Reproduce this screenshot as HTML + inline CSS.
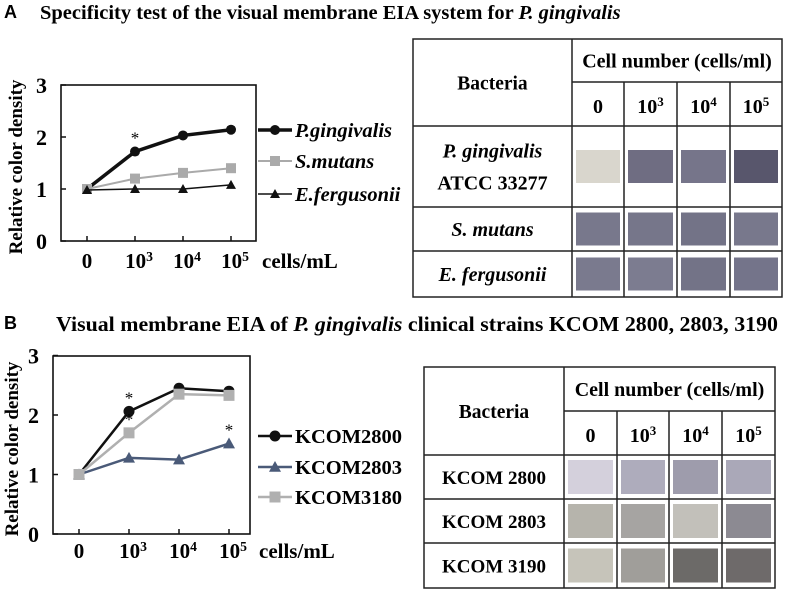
<!DOCTYPE html>
<html><head><meta charset="utf-8"><style>
html,body{margin:0;padding:0;background:#fff;}
svg{display:block;font-family:"Liberation Serif",serif;font-weight:bold;}
</style></head><body>
<svg id="fig" width="787" height="592" viewBox="0 0 787 592" xmlns="http://www.w3.org/2000/svg">
<text x="4" y="18" font-family="Liberation Sans" font-size="18">A</text>
<text x="40" y="19" font-size="20.5">Specificity test of the visual membrane EIA system for <tspan font-style="italic">P. gingivalis</tspan></text>
<text x="4" y="329" font-family="Liberation Sans" font-size="18">B</text>
<text x="56" y="331" font-size="21.5" textLength="722" lengthAdjust="spacingAndGlyphs">Visual membrane EIA of <tspan font-style="italic">P. gingivalis</tspan> clinical strains KCOM 2800, 2803, 3190</text>
<g id="chartA"></g>
<g id="chartB"></g>
<g id="tableA"></g>
<g id="tableB"></g>
</svg>
<script>
const xCats=["0","10|3","10|4","10|5"];
const yTicks=[0,1,2,3];
const aPg=[1,1.72,2.03,2.14];
const aSm=[1,1.2,1.31,1.4];
const aEf=[0.98,1,1,1.08];
const b2800=[1,2.06,2.45,2.4];
const b2803=[1,1.28,1.25,1.52];
const b3180=[1,1.7,2.35,2.33];
const NS="http://www.w3.org/2000/svg";
function mk(p,t,a){const e=document.createElementNS(NS,t);for(const k in a)e.setAttribute(k,a[k]);p.appendChild(e);return e;}
function txt(p,x,y,s,size,anchor,style){const e=mk(p,"text",{x:x,y:y,"font-size":size,"text-anchor":anchor||"start"});if(style)e.setAttribute("font-style",style);
 if(s.indexOf("|")>=0){const [b,sup]=s.split("|");e.textContent=b;const t=mk(e,"tspan",{dy:-7,"font-size":size*0.65});t.textContent=sup;}else e.textContent=s;return e;}
function chart(g,c){
 const X=i=>c.x0+i*c.dx, Y=v=>c.yb-v*c.ky;
 const box=mk(g,"rect",{x:c.l,y:c.t,width:c.r-c.l,height:c.yb-c.t,fill:"none",stroke:"#111","stroke-width":1.6});
 
 yTicks.forEach(v=>{mk(g,"line",{x1:c.l,x2:c.l+5,y1:Y(v),y2:Y(v),stroke:"#111","stroke-width":1.5});
  const t=txt(g,c.l-14,Y(v)+8,String(v),22,"end");});
 xCats.forEach((s,i)=>{mk(g,"line",{x1:X(i),x2:X(i),y1:c.yb,y2:c.yb-5,stroke:"#111","stroke-width":1.5});
  const t=txt(g,X(i)+(i?4:0),c.xl,s,21,"middle");});
 const u=txt(g,c.unitX,c.xl,"cells/mL",21,"start");
 const yt=txt(g,0,0,"Relative color density",19,"middle");yt.setAttribute("transform",`translate(${c.ytx},${(c.t+c.yb)/2+4}) rotate(-90)`);
 
 c.series.forEach((s,k)=>{
  const pts=s.v.map((v,i)=>X(i)+","+Y(v)).join(" ");
  const pl=mk(g,"polyline",{points:pts,fill:"none",stroke:s.col,"stroke-width":s.w});
  
  s.v.forEach((v,i)=>{const m=marker(g,s.m,X(i),Y(v),s.col,s.sz);});
  const ly=c.legY[k];
  mk(g,"line",{x1:c.legX,x2:c.legX+34,y1:ly,y2:ly,stroke:s.col,"stroke-width":s.w});
  marker(g,s.m,c.legX+17,ly,s.col,s.sz);
  const lt=txt(g,c.legX+37,ly+7,s.name,20.5,"start",s.it?"italic":null);
  (s.star||[]).forEach(i=>{const st=txt(g,X(i),Y(s.v[i])-8,"*",17,"middle");st.setAttribute("font-weight","normal");});
 });
}
function marker(g,m,x,y,col,sz){
 if(m=="c")return mk(g,"circle",{cx:x,cy:y,r:sz,fill:col});
 if(m=="s")return mk(g,"rect",{x:x-sz,y:y-sz,width:2*sz,height:2*sz,fill:col});
 return mk(g,"polygon",{points:`${x},${y-sz} ${x-sz},${y+sz*0.8} ${x+sz},${y+sz*0.8}`,fill:col});
}
chart(document.getElementById("chartA"),{l:61,r:256,t:85,yb:241,x0:87,dx:48,ky:52,xl:268,unitX:262,ytx:22,legX:258,legY:[130,161,194],
 series:[{id:"p-gingivalis",name:"P.gingivalis",v:aPg,col:"#111",w:3.5,m:"c",sz:5,it:1,star:[1]},
 {id:"s-mutans",name:"S.mutans",v:aSm,col:"#aaa",w:2,m:"s",sz:5,it:1},
 {id:"e-fergusonii",name:"E.fergusonii",v:aEf,col:"#111",w:1.5,m:"t",sz:5,it:1}]});
chart(document.getElementById("chartB"),{l:53,r:250,t:356,yb:534,x0:79,dx:50,ky:59.5,xl:558,unitX:259,ytx:18,legX:258,legY:[436,467,497],
 series:[{id:"kcom2800",name:"KCOM2800",v:b2800,col:"#111",w:2.5,m:"c",sz:5.5,star:[1]},
 {id:"kcom2803",name:"KCOM2803",v:b2803,col:"#4a5a78",w:2.5,m:"t",sz:6,star:[3]},
 {id:"kcom3180",name:"KCOM3180",v:b3180,col:"#b0b0b0",w:2.5,m:"s",sz:5.5,star:[1]}]});
function table(g,T){
 const L=T.cols[0],R=T.cols[5];
 mk(g,"rect",{x:L,y:T.rows[0],width:R-L,height:T.rows[T.rows.length-1]-T.rows[0],fill:"none",stroke:"#222","stroke-width":1.5});
 mk(g,"line",{x1:T.cols[1],x2:R,y1:T.split,y2:T.split,stroke:"#222","stroke-width":1.5});
 mk(g,"line",{x1:T.cols[1],x2:T.cols[1],y1:T.rows[0],y2:T.rows[T.rows.length-1],stroke:"#222","stroke-width":1.5});
 for(let i=2;i<5;i++)mk(g,"line",{x1:T.cols[i],x2:T.cols[i],y1:T.split,y2:T.rows[T.rows.length-1],stroke:"#222","stroke-width":1.5});
 for(let j=1;j<T.rows.length-1;j++)mk(g,"line",{x1:L,x2:R,y1:T.rows[j],y2:T.rows[j],stroke:"#222","stroke-width":1.5});
 let t=txt(g,(L+T.cols[1])/2,(T.rows[0]+T.rows[1])/2+7,"Bacteria",19.5,"middle");
 t=txt(g,(T.cols[1]+R)/2,(T.rows[0]+T.split)/2+7,"Cell number (cells/ml)",20,"middle");
 xCats.forEach((s,i)=>{const h=txt(g,(T.cols[i+1]+T.cols[i+2])/2,(T.split+T.rows[1])/2+9,s,20,"middle");});
 T.names.forEach((n,j)=>{const y0=T.rows[j+1],y1=T.rows[j+2],cy=(y0+y1)/2;
  if(Array.isArray(n)){n.forEach((p,k)=>{const e=txt(g,(L+T.cols[1])/2,cy-9+k*32,p[0],20,"middle",p[1]?"italic":null);});}
  else{const e=txt(g,(L+T.cols[1])/2,cy+7,n,T.it?20:19,"middle",T.it?"italic":null);}
  for(let i=0;i<4;i++){const x0=T.cols[i+1],x1=T.cols[i+2];const h=Math.min(T.sh,y1-y0-8);
   const r=mk(g,"rect",{x:x0+4,y:cy-h/2,width:x1-x0-8,height:h,fill:T.col[j][i]});}
 });
}
table(document.getElementById("tableA"),{cols:[413,572,624,677,730,782],rows:[39,126,207,251,297],split:82,sh:33,it:1,
 names:[[["P. gingivalis",1],["ATCC 33277",0]],"S. mutans","E. fergusonii"],
 col:[["#d9d6cd","#6f6d82","#76758a","#58566c"],["#78788c","#76768a","#737387","#78788c"],["#7a7a8e","#7c7c90","#737387","#74748a"]]});
table(document.getElementById("tableB"),{cols:[424,564,617,669,722,775],rows:[367,455,499,543,588],split:411,sh:34,it:0,
 names:["KCOM 2800","KCOM 2803","KCOM 3190"],
 col:[["#d4d0dc","#aeacbc","#9e9cac","#aaa8b8"],["#b6b4ac","#a6a4a2","#c2c0ba","#8c8a92"],["#c6c4ba","#a09e9a","#6c6a68","#6e6a6a"]]});
</script>
</body></html>
